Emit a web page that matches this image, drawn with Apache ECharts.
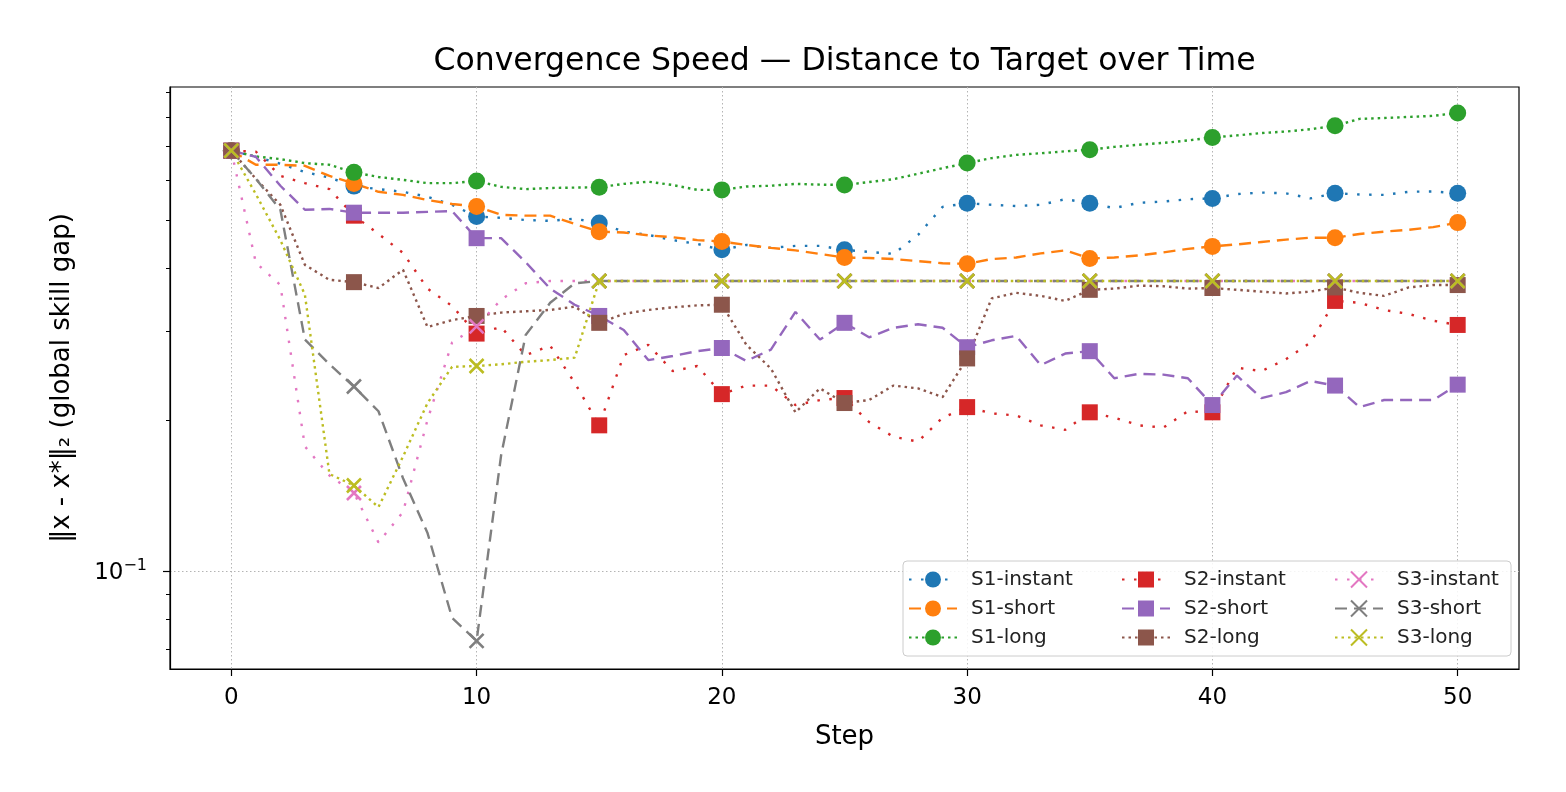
<!DOCTYPE html>
<html>
<head>
<meta charset="utf-8">
<script src="https://cdn.jsdelivr.net/npm/echarts@6/dist/echarts.min.js"></script>
<style>html,body{margin:0;padding:0;background:#fff}#chart{width:1566px;height:792px}</style>
</head>
<body>
<div id="chart"></div>
<script>
// ---------- DATA ----------
const steps = [0,1,2,3,4,5,6,7,8,9,10,11,12,13,14,15,16,17,18,19,20,21,22,23,24,25,26,27,28,29,30,31,32,33,34,35,36,37,38,39,40,41,42,43,44,45,46,47,48,49,50];
const xTickLabels = [0,10,20,30,40,50];
const yMajorTicks = [0.1];
const yMinorTicks = [0.07,0.08,0.09,0.2,0.3,0.4,0.5,0.6,0.7,0.8,0.9];

const s1Instant = [0.687,0.668,0.647,0.623,0.607,0.584,0.576,0.569,0.556,0.536,
  0.508,0.505,0.500,0.498,0.503,0.493,0.474,0.467,0.456,0.448,
  0.436,0.446,0.440,0.444,0.444,0.436,0.432,0.428,0.467,0.531,
  0.540,0.536,0.533,0.536,0.550,0.540,0.528,0.541,0.544,0.550,
  0.552,0.563,0.567,0.565,0.552,0.565,0.562,0.561,0.569,0.570,
  0.565];
const s1Short = [0.687,0.644,0.644,0.641,0.612,0.591,0.569,0.561,0.548,0.538,
  0.532,0.512,0.510,0.510,0.491,0.474,0.472,0.466,0.462,0.456,
  0.453,0.446,0.440,0.435,0.428,0.421,0.420,0.418,0.414,0.410,
  0.409,0.418,0.421,0.429,0.435,0.419,0.421,0.425,0.431,0.438,
  0.443,0.447,0.452,0.457,0.461,0.461,0.469,0.474,0.478,0.484,
  0.494];
const s1Long = [0.687,0.669,0.661,0.649,0.644,0.622,0.609,0.601,0.592,0.592,
  0.598,0.582,0.576,0.579,0.580,0.581,0.590,0.596,0.587,0.574,
  0.574,0.583,0.585,0.590,0.588,0.587,0.595,0.603,0.618,0.634,
  0.649,0.664,0.674,0.679,0.685,0.690,0.699,0.706,0.712,0.720,
  0.730,0.737,0.745,0.750,0.758,0.770,0.795,0.798,0.802,0.806,
  0.817];
const s2Instant = [0.687,0.684,0.612,0.592,0.576,0.510,0.469,0.430,0.365,0.337,
  0.297,0.306,0.269,0.281,0.237,0.195,0.269,0.282,0.250,0.256,
  0.225,0.234,0.234,0.214,0.219,0.221,0.198,0.185,0.181,0.202,
  0.212,0.206,0.204,0.195,0.191,0.207,0.202,0.195,0.193,0.208,
  0.207,0.254,0.250,0.264,0.285,0.345,0.342,0.331,0.325,0.315,
  0.309];
const s2Short = [0.687,0.668,0.585,0.524,0.526,0.517,0.517,0.517,0.519,0.521,
  0.460,0.460,0.412,0.365,0.339,0.322,0.302,0.263,0.268,0.274,
  0.278,0.262,0.276,0.328,0.289,0.312,0.292,0.305,0.310,0.305,
  0.279,0.288,0.294,0.257,0.271,0.274,0.242,0.247,0.246,0.242,
  0.214,0.245,0.221,0.227,0.239,0.234,0.212,0.219,0.219,0.219,
  0.235];
const s2Long = [0.687,0.604,0.536,0.407,0.380,0.376,0.366,0.398,0.306,0.316,
  0.322,0.327,0.329,0.331,0.336,0.312,0.325,0.331,0.335,0.338,
  0.339,0.282,0.253,0.207,0.231,0.216,0.219,0.234,0.231,0.222,
  0.265,0.349,0.358,0.353,0.345,0.363,0.365,0.370,0.369,0.365,
  0.366,0.363,0.360,0.357,0.360,0.367,0.358,0.353,0.367,0.371,
  0.371];
const s3Instant = [0.687,0.411,0.371,0.177,0.155,0.143,0.114,0.131,0.200,0.285,
  0.307,0.347,0.374,0.378,0.378,0.378,0.378,0.378,0.378,0.378,
  0.378,0.378,0.378,0.378,0.378,0.378,0.378,0.378,0.378,0.378,
  0.378,0.378,0.378,0.378,0.378,0.378,0.378,0.378,0.378,0.378,
  0.378,0.378,0.378,0.378,0.378,0.378,0.378,0.378,0.378,0.378,
  0.378];
const s3Short = [0.687,0.604,0.524,0.289,0.258,0.233,0.208,0.153,0.119,0.0807,
  0.0726,0.170,0.295,0.342,0.374,0.378,0.378,0.378,0.378,0.378,
  0.378,0.378,0.378,0.378,0.378,0.378,0.378,0.378,0.378,0.378,
  0.378,0.378,0.378,0.378,0.378,0.378,0.378,0.378,0.378,0.378,
  0.378,0.378,0.378,0.378,0.378,0.378,0.378,0.378,0.378,0.378,
  0.378];
const s3Long = [0.687,0.563,0.456,0.355,0.156,0.148,0.134,0.169,0.216,0.255,
  0.256,0.258,0.261,0.263,0.266,0.378,0.378,0.378,0.378,0.378,
  0.378,0.378,0.378,0.378,0.378,0.378,0.378,0.378,0.378,0.378,
  0.378,0.378,0.378,0.378,0.378,0.378,0.378,0.378,0.378,0.378,
  0.378,0.378,0.378,0.378,0.378,0.378,0.378,0.378,0.378,0.378,
  0.378];

const seriesNames = ['S1-instant','S1-short','S1-long','S2-instant','S2-short','S2-long','S3-instant','S3-short','S3-long'];
const legendOrder = ['S1-instant','S2-instant','S3-instant','S1-short','S2-short','S3-short','S1-long','S2-long','S3-long'];

// ---------- STYLE ----------
const FONT = 'DejaVu Sans';
const X_PATH = 'path://M0,0L10,10M10,0L0,10';
const DOT_LOOSE = [2.5, 9.5];
const DASH = [12, 7];
const DOT = [2.5, 4];
const styles = {
  'S1-instant': {data: s1Instant, color: '#1f77b4', symbol: 'circle', size: 17, dash: DOT_LOOSE},
  'S1-short':   {data: s1Short,   color: '#ff7f0e', symbol: 'circle', size: 17, dash: DASH},
  'S1-long':    {data: s1Long,    color: '#2ca02c', symbol: 'circle', size: 17, dash: DOT},
  'S2-instant': {data: s2Instant, color: '#d62728', symbol: 'rect',   size: 16, dash: DOT_LOOSE},
  'S2-short':   {data: s2Short,   color: '#9467bd', symbol: 'rect',   size: 16, dash: DASH},
  'S2-long':    {data: s2Long,    color: '#8c564b', symbol: 'rect',   size: 16, dash: DOT},
  'S3-instant': {data: s3Instant, color: '#e377c2', symbol: X_PATH,   size: 14, dash: DOT_LOOSE, cross: true},
  'S3-short':   {data: s3Short,   color: '#7f7f7f', symbol: X_PATH,   size: 14, dash: DASH, cross: true},
  'S3-long':    {data: s3Long,    color: '#bcbd22', symbol: X_PATH,   size: 14, dash: DOT, cross: true}
};

const series = seriesNames.map(function (name) {
  const st = styles[name];
  return {
    type: 'line',
    name: name,
    yAxisIndex: 0,
    data: steps.map(function (s, i) { return [s, st.data[i]]; }),
    symbol: st.symbol,
    symbolSize: function (v, p) { return p.dataIndex % 5 === 0 ? st.size : 0; },
    showAllSymbol: true,
    symbolKeepAspect: true,
    lineStyle: {color: st.color, width: 2.4, type: st.dash, cap: 'butt'},
    itemStyle: {color: st.color, borderColor: st.color, borderWidth: st.cross ? 2.6 : 0},
    emphasis: {disabled: true},
    animation: false
  };
});

const gridLine = {color: '#b4b4b4', width: 1, type: [1.5, 2.5]};
const PLOT_W = 1566 - 170 - 47;

const option = {
  animation: false,
  backgroundColor: '#ffffff',
  title: {
    text: 'Convergence Speed \u2014 Distance to Target over Time',
    left: 839.5, top: 41, textAlign: 'center',
    textStyle: {fontFamily: FONT, fontSize: 31.5, fontWeight: 'normal', color: '#000'}
  },
  grid: {left: 170, right: 47, top: 87, bottom: 123, show: true, borderColor: '#000', borderWidth: 1.2, backgroundColor: 'transparent'},
  xAxis: {
    type: 'value', min: -2.5, max: 52.5, splitNumber: 5,
    name: 'Step', nameLocation: 'middle', nameGap: 55,
    nameTextStyle: {fontFamily: FONT, fontSize: 26, color: '#000'},
    axisLine: {show: true, onZero: false, lineStyle: {color: '#000', width: 1.2}},
    axisTick: {show: true, length: 7, customValues: xTickLabels, lineStyle: {color: '#000', width: 1.2}},
    axisLabel: {customValues: xTickLabels, fontFamily: FONT, fontSize: 23, color: '#000', margin: 18},
    splitLine: {show: true, lineStyle: gridLine}
  },
  yAxis: [{
    type: 'log', logBase: 10, min: 0.0638, max: 0.92, position: 'left',
    name: '\u2016x - x*\u2016\u2082 (global skill gap)', nameLocation: 'middle', nameGap: 95, nameRotate: 90,
    nameTextStyle: {fontFamily: FONT, fontSize: 26, color: '#000'},
    axisLine: {show: true, onZero: false, lineStyle: {color: '#000', width: 1.2}},
    axisTick: {show: true, length: 7, customValues: yMajorTicks, lineStyle: {color: '#000', width: 1.2}},
    axisLabel: {
      customValues: yMajorTicks,
      formatter: function () { return '{b|10}{s|\u22121}'; },
      fontFamily: FONT, fontSize: 23, color: '#000', margin: 23,
      rich: {
        b: {fontFamily: FONT, fontSize: 23, color: '#000', verticalAlign: 'bottom'},
        s: {fontFamily: FONT, fontSize: 16, color: '#000', verticalAlign: 'top', padding: [0, 0, 11, 0]}
      }
    },
    splitLine: {show: true, lineStyle: gridLine}
  }, {
    // minor ticks only: placed on the right slot, shifted onto the left edge
    type: 'log', logBase: 10, min: 0.0638, max: 0.92, position: 'right', offset: -PLOT_W,
    axisLine: {show: false, onZero: false},
    axisTick: {show: true, inside: true, length: 4, customValues: yMinorTicks, lineStyle: {color: '#000', width: 1}},
    axisLabel: {show: false, customValues: yMinorTicks},
    splitLine: {show: false}
  }],
  legend: {
    left: 903, top: 561, orient: 'horizontal', width: 600,
    itemWidth: 48, itemHeight: 20, itemGap: 4,
    padding: [6, 6, 6, 5],
    backgroundColor: 'rgba(255,255,255,0.85)', borderColor: '#cccccc', borderWidth: 1, borderRadius: 4,
    textStyle: {fontFamily: FONT, fontSize: 20, color: '#222', width: 146, padding: [0, 0, 0, 9], lineHeight: 25},
    data: legendOrder.map(function (n) { return n.indexOf('S3') === 0 ? {name: n, textStyle: {width: 108}} : {name: n}; })
  },
  series: series
};

const chart = echarts.init(document.getElementById('chart'), null, {renderer: 'canvas'});
chart.setOption(option);
</script>
</body>
</html>
